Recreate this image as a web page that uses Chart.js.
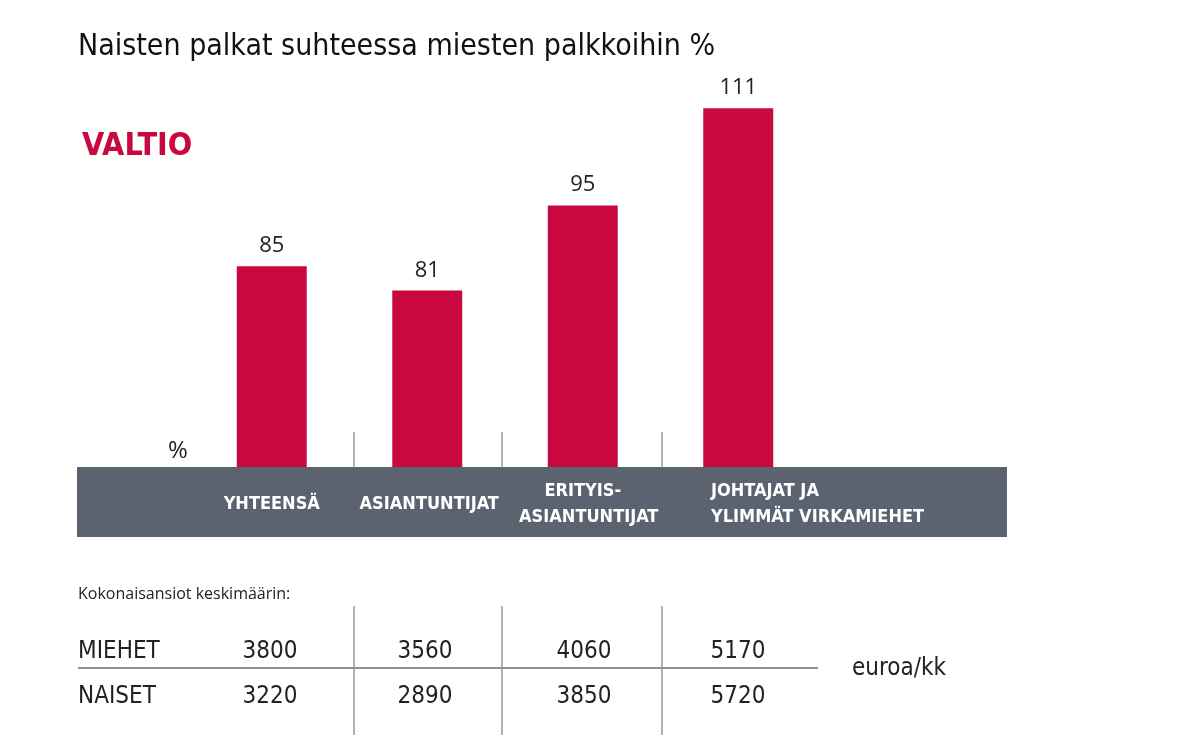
<!DOCTYPE html>
<html>
<head>
<meta charset="utf-8">
<script src="https://cdn.jsdelivr.net/npm/chart.js@4"></script>
<style>
  body { margin: 0; background: #fff; }
  #wrap { width: 1199px; height: 750px; position: relative; }
</style>
</head>
<body>
<div id="wrap"><canvas id="c"></canvas></div>
<script>
// ===== Data =====
const categories = [["YHTEENSÄ"], ["ASIANTUNTIJAT"], ["ERITYIS-", "ASIANTUNTIJAT"], ["JOHTAJAT JA", "YLIMMÄT VIRKAMIEHET"]];
const ratioValues = [85, 81, 95, 111];
const menPay = [3800, 3560, 4060, 5170];
const womenPay = [3220, 2890, 3850, 5720];

const RED = "#c8083f";
const GREY = "#5b6270";
const FONT = "'Open Sans', 'Liberation Sans', sans-serif";
const COND = "'Liberation Sans Narrow', 'DejaVu Sans Condensed', 'Open Sans', sans-serif";

// ===== Decorations plugin =====
const decor = {
  id: "decor",
  beforeDatasetsDraw(chart) {
    const c = chart.ctx;
    const bottom = chart.chartArea.bottom;
    c.save();
    c.fillStyle = GREY;
    c.fillRect(77, bottom, 930, 70);
    c.strokeStyle = "#999";
    c.lineWidth = 1.5;
    [354, 502, 662].forEach((x) => {
      c.beginPath(); c.moveTo(x, 432); c.lineTo(x, bottom); c.stroke();
    });
    c.restore();
  },
  afterDatasetsDraw(chart) {
    const c = chart.ctx;
    const meta = chart.getDatasetMeta(0);
    const bottom = chart.chartArea.bottom;
    c.save();
    // title
    c.fillStyle = "#111";
    c.textBaseline = "alphabetic";
    c.textAlign = "left";
    c.font = `30px ${COND}`;
    c.fillText("Naisten palkat suhteessa miesten palkkoihin %", 78, 55);
    c.fillStyle = RED;
    c.font = `bold 32px ${COND}`;
    c.fillText("VALTIO", 82, 155);
    c.fillStyle = "#222";
    c.font = `24px ${FONT}`;
    c.fillText("%", 168, 458);

    // value labels
    c.textAlign = "center";
    c.font = `22px ${FONT}`;
    c.fillStyle = "#222";
    meta.data.forEach((bar, i) => {
      c.fillText(String(ratioValues[i]), bar.x, bar.y - 14);
    });

    // category labels in band
    c.fillStyle = "#fff";
    c.font = `bold 18px ${COND}`;
    meta.data.forEach((bar, i) => {
      const lines = categories[i];
      if (lines.length === 1) {
        c.textAlign = "center";
        c.fillText(lines[0], bar.x + (i === 1 ? 2 : 0), bottom + 42);
      } else if (i === 2) {
        c.textAlign = "center";
        c.fillText(lines[0], bar.x, bottom + 29);
        c.fillText(lines[1], bar.x + 6, bottom + 55);
      } else {
        c.textAlign = "left";
        c.fillText(lines[0], 711, bottom + 29);
        c.fillText(lines[1], 711, bottom + 55);
      }
    });

    // table
    c.fillStyle = "#222";
    c.textAlign = "left";
    c.font = `16px ${FONT}`;
    c.fillText("Kokonaisansiot keskimäärin:", 78, 599);
    c.font = `24px ${COND}`;
    c.fillText("MIEHET", 78, 658);
    c.fillText("NAISET", 78, 703);
    c.fillText("euroa/kk", 852, 675);
    c.textAlign = "center";
    const colX = [270, 425, 584, 738];
    colX.forEach((x, i) => {
      c.fillText(String(menPay[i]), x, 658);
      c.fillText(String(womenPay[i]), x, 703);
    });
    c.strokeStyle = "#222";
    c.lineWidth = 1.2;
    c.beginPath(); c.moveTo(78, 668); c.lineTo(818, 668); c.stroke();
    c.strokeStyle = "#999";
    c.lineWidth = 1.5;
    [354, 502, 662].forEach((x) => {
      c.beginPath(); c.moveTo(x, 606); c.lineTo(x, 735); c.stroke();
    });
    c.restore();
  },
};

new Chart(document.getElementById("c"), {
  type: "bar",
  data: {
    labels: categories.map((l) => l.join(" ")),
    datasets: [{ data: ratioValues, backgroundColor: RED, barPercentage: 0.45, categoryPercentage: 1 }],
  },
  options: {
    responsive: true,
    maintainAspectRatio: false,
    animation: false,
    layout: { padding: { left: 194, right: 383, top: 23, bottom: 283 } },
    scales: {
      x: { display: false },
      y: { display: false, min: 52, max: 125 },
    },
    plugins: { legend: { display: false }, tooltip: { enabled: false } },
  },
  plugins: [decor],
});
</script>
</body>
</html>
